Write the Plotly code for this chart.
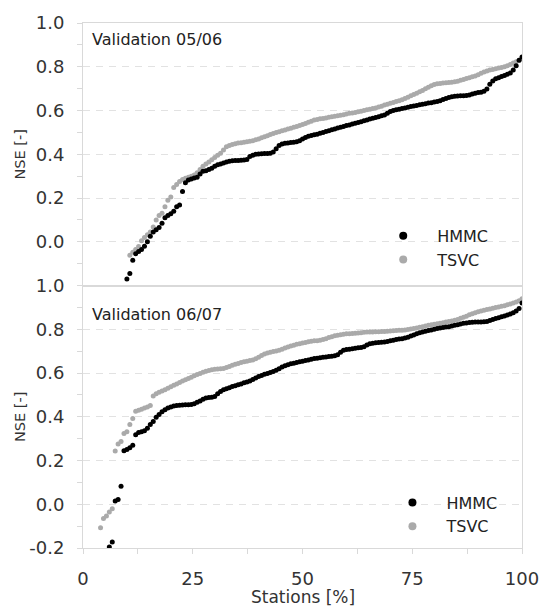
import plotly.graph_objects as go

# Sorted Nash-Sutcliffe efficiencies per station (ascending), two validation periods
hmmc_0506 = [
    -1.85, -1.20, -0.95, -0.80, -0.70, -0.62, -0.55, -0.48, -0.42, -0.37, -0.33, -0.29, -0.26, -0.23,
    -0.170, -0.145, -0.085, -0.055, -0.045, -0.035,
    -0.020, 0.000, 0.025, 0.045, 0.055, 0.065, 0.085, 0.110, 0.120, 0.128,
    0.140, 0.160, 0.168, 0.230, 0.270, 0.282, 0.287, 0.292, 0.295, 0.310,
    0.322, 0.325, 0.330, 0.336, 0.345, 0.352, 0.356, 0.360, 0.365, 0.368,
    0.370, 0.371, 0.372, 0.373, 0.374, 0.376, 0.390, 0.396, 0.400, 0.401,
    0.402, 0.403, 0.404, 0.405, 0.410, 0.425, 0.440, 0.447, 0.450, 0.452,
    0.454, 0.455, 0.457, 0.462, 0.470, 0.477, 0.482, 0.486, 0.489, 0.492,
    0.496, 0.500, 0.504, 0.508, 0.512, 0.515, 0.520, 0.523, 0.527, 0.531,
    0.534, 0.538, 0.542, 0.545, 0.549, 0.553, 0.557, 0.561, 0.565, 0.568,
    0.572, 0.576, 0.580, 0.588, 0.595, 0.600, 0.603, 0.606, 0.609, 0.612,
    0.615, 0.618, 0.621, 0.623, 0.626, 0.629, 0.631, 0.634, 0.636, 0.639,
    0.641, 0.645, 0.650, 0.655, 0.660, 0.663, 0.665, 0.666, 0.667, 0.668,
    0.669, 0.671, 0.675, 0.679, 0.682, 0.684, 0.688, 0.698, 0.720, 0.735,
    0.745, 0.750, 0.755, 0.760, 0.766, 0.772, 0.785, 0.805, 0.830, 0.845,
]
tsvc_0506 = [
    -1.60, -1.10, -0.85, -0.70, -0.60, -0.52, -0.45, -0.40, -0.36, -0.33, -0.30, -0.28, -0.26, -0.25, -0.24,
    -0.062, -0.048, -0.035, -0.022, 0.005,
    0.020, 0.032, 0.045, 0.068, 0.100, 0.120, 0.130, 0.160, 0.190, 0.205,
    0.248, 0.262, 0.276, 0.285, 0.290, 0.295, 0.300, 0.305, 0.315, 0.330,
    0.345, 0.355, 0.365, 0.375, 0.385, 0.395, 0.405, 0.420, 0.434, 0.440,
    0.445, 0.448, 0.451, 0.453, 0.455, 0.457, 0.459, 0.462, 0.466, 0.470,
    0.475, 0.480, 0.485, 0.490, 0.495, 0.499, 0.503, 0.507, 0.511, 0.515,
    0.519, 0.523, 0.527, 0.531, 0.536, 0.541, 0.546, 0.551, 0.556, 0.559,
    0.562, 0.564, 0.566, 0.569, 0.572, 0.574, 0.576, 0.578, 0.581, 0.584,
    0.587, 0.589, 0.591, 0.594, 0.597, 0.600, 0.603, 0.606, 0.609, 0.612,
    0.616, 0.620, 0.625, 0.629, 0.633, 0.637, 0.641, 0.645, 0.649, 0.655,
    0.661, 0.667, 0.673, 0.679, 0.686, 0.692, 0.699, 0.706, 0.713, 0.719,
    0.722, 0.724, 0.726, 0.727, 0.728, 0.729, 0.731, 0.734, 0.738, 0.742,
    0.746, 0.750, 0.754, 0.758, 0.764, 0.770, 0.776, 0.781, 0.785, 0.788,
    0.791, 0.794, 0.797, 0.800, 0.805, 0.810, 0.817, 0.823, 0.830, 0.838,
]
hmmc_0607 = [
    -2.10, -1.30, -0.90, -0.70, -0.55, -0.42, -0.33, -0.26,
    -0.195, -0.172,
    0.015, 0.022, 0.082, 0.245, 0.250, 0.258, 0.270, 0.318, 0.328, 0.332,
    0.336, 0.348, 0.365, 0.378, 0.398, 0.410, 0.423, 0.432, 0.440, 0.445,
    0.449, 0.451, 0.453, 0.454, 0.455, 0.455, 0.456, 0.460, 0.466, 0.472,
    0.480, 0.486, 0.488, 0.489, 0.493, 0.505, 0.516, 0.523, 0.528, 0.533,
    0.538, 0.542, 0.546, 0.550, 0.555, 0.559, 0.564, 0.570, 0.577, 0.584,
    0.589, 0.594, 0.598, 0.602, 0.607, 0.613, 0.620, 0.627, 0.633, 0.638,
    0.642, 0.645, 0.648, 0.651, 0.654, 0.657, 0.660, 0.663, 0.666, 0.668,
    0.670, 0.672, 0.673, 0.675, 0.677, 0.679, 0.683, 0.695, 0.704, 0.707,
    0.709, 0.711, 0.713, 0.715, 0.717, 0.720, 0.728, 0.734, 0.736, 0.738,
    0.740, 0.741, 0.742, 0.744, 0.747, 0.750, 0.753, 0.755, 0.757, 0.760,
    0.764, 0.769, 0.774, 0.779, 0.784, 0.788, 0.791, 0.794, 0.797, 0.800,
    0.803, 0.806, 0.808, 0.810, 0.812, 0.815, 0.818, 0.821, 0.824, 0.827,
    0.829, 0.831, 0.832, 0.833, 0.833, 0.833, 0.834, 0.836, 0.840, 0.845,
    0.849, 0.853, 0.857, 0.861, 0.865, 0.870, 0.876, 0.884, 0.895, 0.920,
]
tsvc_0607 = [
    -1.50, -0.80, -0.50, -0.35, -0.25,
    -0.107, -0.065, -0.054, -0.035, -0.020,
    0.244, 0.275, 0.287, 0.324, 0.332, 0.365, 0.392, 0.425, 0.430, 0.434,
    0.440, 0.445, 0.452, 0.495, 0.505, 0.512, 0.518, 0.524, 0.530, 0.537,
    0.544, 0.550, 0.556, 0.563, 0.569, 0.575, 0.581, 0.587, 0.593, 0.598,
    0.603, 0.608, 0.612, 0.615, 0.617, 0.618, 0.620, 0.621, 0.625, 0.630,
    0.635, 0.640, 0.644, 0.648, 0.651, 0.654, 0.657, 0.660, 0.665, 0.672,
    0.680, 0.687, 0.692, 0.695, 0.698, 0.701, 0.704, 0.709, 0.714, 0.719,
    0.723, 0.727, 0.731, 0.734, 0.737, 0.740, 0.743, 0.745, 0.747, 0.748,
    0.750, 0.753, 0.757, 0.762, 0.766, 0.770, 0.773, 0.775, 0.777, 0.779,
    0.780, 0.781, 0.782, 0.783, 0.784, 0.786, 0.787, 0.788, 0.788, 0.789,
    0.789, 0.790, 0.790, 0.791, 0.792, 0.793, 0.794, 0.795, 0.796, 0.797,
    0.799, 0.801, 0.803, 0.806, 0.809, 0.812, 0.815, 0.818, 0.821, 0.823,
    0.825, 0.828, 0.830, 0.833, 0.836, 0.838, 0.841, 0.845, 0.850, 0.855,
    0.860, 0.866, 0.871, 0.876, 0.880, 0.884, 0.887, 0.890, 0.893, 0.896,
    0.899, 0.902, 0.905, 0.908, 0.912, 0.916, 0.920, 0.925, 0.930, 0.940,
]

series_names = ["HMMC", "TSVC"]
panel_titles = ["Validation 05/06", "Validation 06/07"]
x_ticks = [0, 25, 50, 75, 100]
y_ticks_top = [0.0, 0.2, 0.4, 0.6, 0.8, 1.0]
y_ticks_bottom = [-0.2, 0.0, 0.2, 0.4, 0.6, 0.8, 1.0]

COL = {"HMMC": "#000000", "TSVC": "#aaaaaa"}
FONT = "DejaVu Sans"
LINE = "#d9d9d9"
GRID = "#e2e2e2"


def station_pct(values):
    n = len(values)
    return [100.0 * (i + 1) / n for i in range(n)]


fig = go.Figure()

panels = [
    ("x", "y", "legend", hmmc_0506, tsvc_0506),
    ("x2", "y2", "legend2", hmmc_0607, tsvc_0607),
]
for xa, ya, leg, hm, ts in panels:
    # grey series underneath, black on top
    for name, vals in (("TSVC", ts), ("HMMC", hm)):
        fig.add_trace(go.Scatter(
            x=station_pct(vals), y=vals, mode="markers",
            marker=dict(color=COL[name], size=5, line=dict(width=0)),
            name=name, showlegend=False, xaxis=xa, yaxis=ya, cliponaxis=True,
        ))
    for name in series_names:
        fig.add_trace(go.Scatter(
            x=[None], y=[None], mode="markers",
            marker=dict(color=COL[name], size=8),
            name=name, legend=leg, xaxis=xa, yaxis=ya,
        ))

common_axis = dict(showline=True, mirror=True, linecolor=LINE, linewidth=1,
                   zeroline=False)
tick_font = dict(family=FONT, size=18, color="#333333")

fig.update_layout(
    width=551, height=610, autosize=False,
    margin=dict(l=83, r=27, t=17, b=62),
    paper_bgcolor="white", plot_bgcolor="white",
    font=dict(family=FONT, color="#222222"),
    xaxis=dict(domain=[0, 1], anchor="y", range=[0, 100], showticklabels=False,
               ticks="", showgrid=False, **common_axis),
    xaxis2=dict(domain=[0, 1], anchor="y2", range=[0, 100], matches="x",
                tickmode="array", tickvals=x_ticks, ticks="outside", ticklen=5,
                tickcolor=LINE, minor=dict(dtick=12.5, tick0=0, ticks="outside",
                                           ticklen=5, tickcolor=LINE),
                tickfont=tick_font, ticklabelstandoff=9, showgrid=False,
                **common_axis),
    yaxis=dict(domain=[0.5, 1], anchor="x", range=[-0.2, 1.0],
               tickmode="array", tickvals=y_ticks_top,
               ticktext=[f"{v:.1f}" for v in y_ticks_top],
               ticks="outside", ticklen=5, tickcolor=LINE,
               minor=dict(dtick=0.1, tick0=0, ticks="outside", ticklen=5,
                          tickcolor=LINE, showgrid=False),
               showgrid=True, gridcolor=GRID, griddash="7px,6px",
               tickfont=tick_font, ticklabelstandoff=9, **common_axis),
    yaxis2=dict(domain=[0, 0.5], anchor="x2", range=[-0.2, 1.0],
                tickmode="array", tickvals=y_ticks_bottom,
                ticktext=[f"{v:.1f}" for v in y_ticks_bottom],
                ticks="outside", ticklen=5, tickcolor=LINE,
                minor=dict(dtick=0.1, tick0=0, ticks="outside", ticklen=5,
                           tickcolor=LINE, showgrid=False),
                showgrid=True, gridcolor=GRID, griddash="7px,6px",
                tickfont=tick_font, ticklabelstandoff=9, **common_axis),
    legend=dict(x=0.652, y=0.627, xanchor="left", yanchor="top",
                bgcolor="rgba(0,0,0,0)", itemwidth=58,
                font=dict(family=FONT, size=16, color="#222222")),
    legend2=dict(x=0.673, y=0.119, xanchor="left", yanchor="top",
                 bgcolor="rgba(0,0,0,0)", itemwidth=58,
                 font=dict(family=FONT, size=16, color="#222222")),
    showlegend=True,
)

# panel captions
for title, ypos in zip(panel_titles, [0.968, 0.444]):
    fig.add_annotation(text=title, xref="paper", yref="paper", x=0.015, y=ypos,
                       xanchor="left", yanchor="middle", showarrow=False,
                       font=dict(family=FONT, size=16, color="#222222"))

# axis titles
for ypos in [0.75, 0.25]:
    fig.add_annotation(text="NSE [-]", xref="paper", yref="paper", x=-0.143,
                       y=ypos, xanchor="center", yanchor="middle", textangle=-90,
                       showarrow=False,
                       font=dict(family=FONT, size=14.5, color="#333333"))
fig.add_annotation(text="Stations [%]", xref="paper", yref="paper", x=0.5,
                   y=-0.094, xanchor="center", yanchor="middle", showarrow=False,
                   font=dict(family=FONT, size=17, color="#333333"))

fig.write_html("out.html")
